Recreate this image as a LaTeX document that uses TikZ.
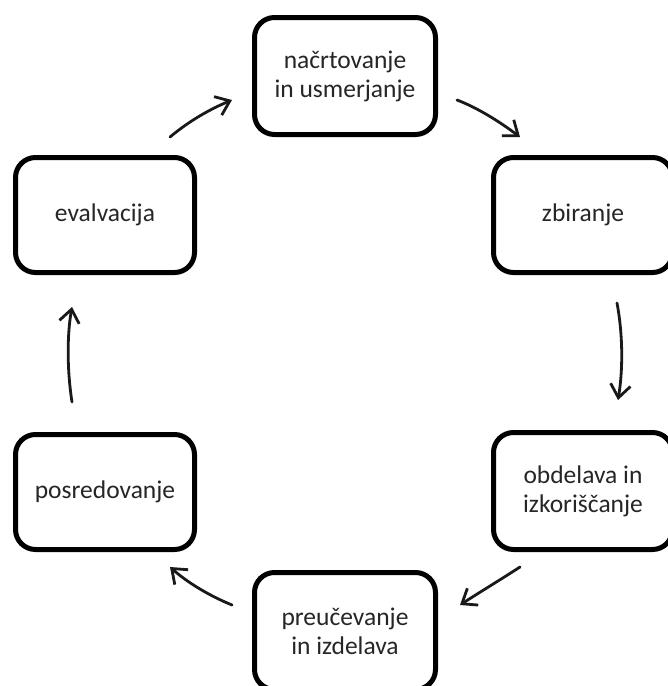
\documentclass[tikz,border=0pt]{standalone}
\usepackage{fontspec}
\setmainfont{Carlito}
\usetikzlibrary{arrows.meta}
\begin{document}
\begin{tikzpicture}[x=1pt,y=-1pt,
  stage/.style={draw=black, line width=5pt, rounded corners=20pt, fill=white,
    align=center, inner sep=0pt, text=black!85,
    font=\fontsize{25.5pt}{29pt}\selectfont},
  flow/.style={line width=2.8pt, draw=black!90, line cap=round,
    -{Straight Barb[length=13pt,width=20pt,line width=2.8pt]}}]
\useasboundingbox (0,0) rectangle (668,686);
\clip (0,0) rectangle (668,686);
\node[stage, minimum width=181pt, minimum height=117pt] (plan) at (345,76) {načrtovanje\\in usmerjanje};
\node[stage, minimum width=179pt, minimum height=115pt] (zbir) at (583,215) {zbiranje};
\node[stage, minimum width=179pt, minimum height=117pt] (obd) at (583,491) {obdelava in\\izkoriščanje};
\node[stage, minimum width=181pt, minimum height=117pt] (preu) at (345,631) {preučevanje\\in izdelava};
\node[stage, minimum width=179pt, minimum height=115pt] (posr) at (105,492) {posredovanje};
\node[stage, minimum width=179pt, minimum height=115pt] (eval) at (105,215) {evalvacija};
% connector ends
\coordinate (e1s) at (170,137); \coordinate (e1e) at (232,100);
\coordinate (e2s) at (457,100); \coordinate (e2e) at (520,137);
\coordinate (e3s) at (617,303); \coordinate (e3e) at (618,400);
\coordinate (e4s) at (520,567); \coordinate (e4e) at (460,605);
\coordinate (e5s) at (232,605); \coordinate (e5e) at (170,567);
\coordinate (e6s) at (72,402);  \coordinate (e6e) at (72,307);
\draw[flow] (e1s) .. controls (188,122) and (208,110) .. (e1e);
\draw[flow] (e2s) .. controls (478,108) and (500,122) .. (e2e);
\draw[flow] (e3s) .. controls (623,335) and (623,370) .. (e3e);
\draw[flow] (e4s) .. controls (500,580) and (480,592) .. (e4e);
\draw[flow] (e5s) .. controls (210,596) and (188,583) .. (e5e);
\draw[flow] (e6s) .. controls (67,370) and (67,335) .. (e6e);
\end{tikzpicture}
\end{document}
